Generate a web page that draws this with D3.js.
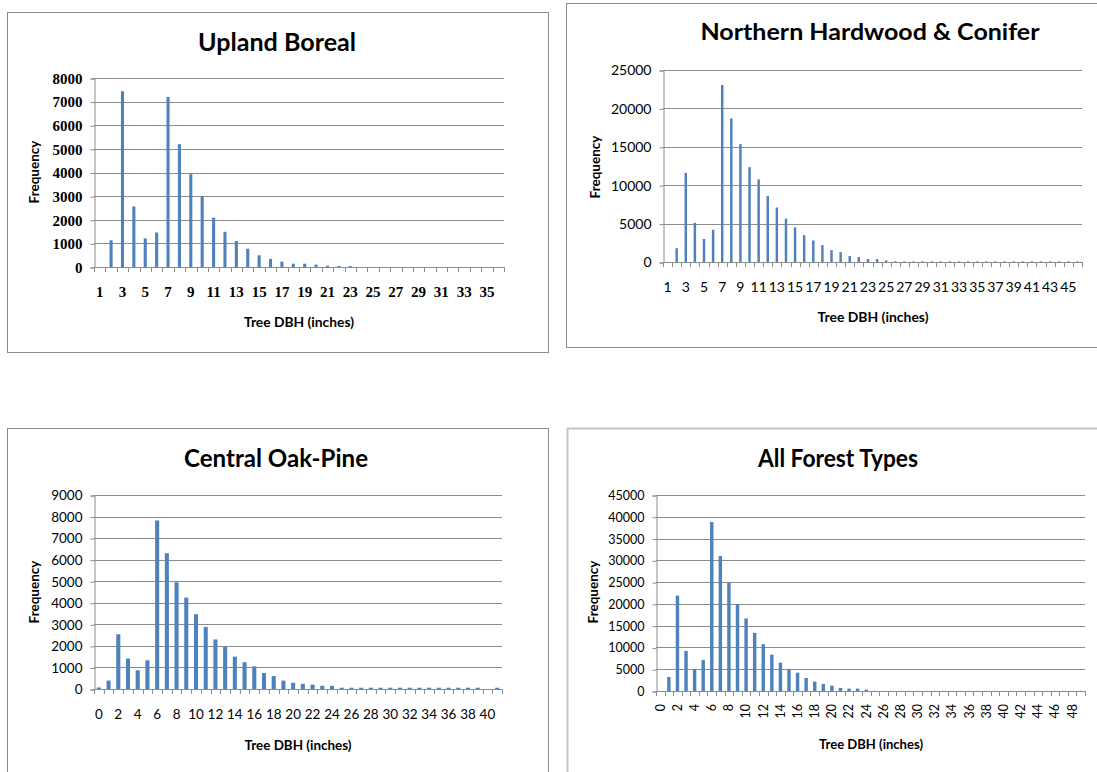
<!DOCTYPE html>
<html>
<head>
<meta charset="utf-8">
<script src="https://cdn.jsdelivr.net/npm/d3@7"></script>
<style>
  body { margin: 0; background: #fff; }
  svg { display: block; font-family: Lato, "Open Sans", sans-serif; }
</style>
</head>
<body>
<svg id="chart" width="1097" height="772"></svg>
<script>
// Upland Boreal
var uplandDBH = [1,2,3,4,5,6,7,8,9,10,11,12,13,14,15,16,17,18,19,20,21,22,23,24,25,26,27,28,29,30,31,32,33,34,35,36];
var uplandFreq = [0,1130,7440,2560,1210,1460,7200,5200,3930,3000,2085,1490,1100,775,495,340,225,140,140,100,55,40,40,0,0,0,0,0,0,0,0,0,0,0,0,0];
var uplandTicks = [0,1000,2000,3000,4000,5000,6000,7000,8000];

// Northern Hardwood & Conifer
var northernDBH = [1,2,3,4,5,6,7,8,9,10,11,12,13,14,15,16,17,18,19,20,21,22,23,24,25,26,27,28,29,30,31,32,33,34,35,36,37,38,39,40,41,42,43,44,45,46];
var northernFreq = [0,1800,11600,5100,3000,4200,23050,18700,15350,12350,10750,8600,7100,5650,4500,3500,2800,2200,1550,1280,780,650,400,380,200,100,80,80,80,80,80,80,80,80,80,80,80,80,80,80,80,80,80,80,80,80];
var northernTicks = [0,5000,10000,15000,20000,25000];

// Central Oak-Pine
var oakDBH = [0,1,2,3,4,5,6,7,8,9,10,11,12,13,14,15,16,17,18,19,20,21,22,23,24,25,26,27,28,29,30,31,32,33,34,35,36,37,38,39,40,41];
var oakFreq = [70,390,2540,1410,870,1330,7820,6300,4950,4240,3470,2880,2300,1950,1500,1240,1050,740,600,390,290,240,200,150,150,60,60,60,60,60,60,60,60,60,60,60,60,60,60,60,0,60];
var oakTicks = [0,1000,2000,3000,4000,5000,6000,7000,8000,9000];

// All Forest Types
var allDBH = [0,1,2,3,4,5,6,7,8,9,10,11,12,13,14,15,16,17,18,19,20,21,22,23,24,25,26,27,28,29,30,31,32,33,34,35,36,37,38,39,40,41,42,43,44,45,46,47,48,49];
var allFreq = [0,3220,21900,9200,5060,7130,38800,31000,24850,19850,16650,13350,10750,8350,6500,5060,4200,3000,2150,1600,1230,700,550,550,300,40,30,30,30,30,30,30,30,30,30,30,30,30,30,30,30,30,30,30,30,30,30,30,30,30];
var allTicks = [0,5000,10000,15000,20000,25000,30000,35000,40000,45000];

var barColor = "#4f81bd";
var gridColor = "#8c8c8c";

var panels = [
  { title: "Upland Boreal", xTitle: "Tree  DBH (inches)", cats: uplandDBH, vals: uplandFreq, ticks: uplandTicks,
    box: [7, 12, 541, 340], boxColor: "#8a8a8a",
    x0: 94, x1: 504, yTop: 78, y0: 267, pad: 0.73,
    titleX: 277, titleY: 51, titleW: 158, titleSize: 24,
    tickFont: "'Liberation Serif', serif", tickSize: 15, tickWeight: "bold", xLabelY: 297, rotate: false,
    freqX: 34, freqY: 172, xTitleX: 299, xTitleY: 327, xTitleW: 110 },
  { title: "Northern Hardwood & Conifer", xTitle: "Tree DBH (inches)", cats: northernDBH, vals: northernFreq, ticks: northernTicks,
    box: [566, 3, 540, 344], boxColor: "#8a8a8a",
    x0: 663, x1: 1082, yTop: 70, y0: 262, pad: 0.73,
    titleX: 870, titleY: 40, titleW: 339, titleSize: 23,
    tickFont: "Lato, sans-serif", tickSize: 14, tickWeight: "normal", xLabelY: 292, rotate: false,
    freqX: 595, freqY: 167, xTitleX: 873, xTitleY: 322, xTitleW: 111 },
  { title: "Central Oak-Pine", xTitle: "Tree DBH (inches)", cats: oakDBH, vals: oakFreq, ticks: oakTicks,
    box: [7, 428, 541, 360], boxColor: "#8a8a8a",
    x0: 94, x1: 502, yTop: 495, y0: 689, pad: 0.58,
    titleX: 276, titleY: 467, titleW: 184, titleSize: 25,
    tickFont: "Lato, sans-serif", tickSize: 13.5, tickWeight: "normal", xLabelY: 719, rotate: false,
    freqX: 34, freqY: 592, xTitleX: 298, xTitleY: 750, xTitleW: 107 },
  { title: "All Forest Types", xTitle: "Tree DBH (inches)", cats: allDBH, vals: allFreq, ticks: allTicks,
    box: [567, 428, 540, 360], boxColor: "#c4c4c4",
    x0: 656, x1: 1085, yTop: 495, y0: 691, pad: 0.6,
    titleX: 838, titleY: 467, titleW: 160, titleSize: 25,
    tickFont: "Lato, sans-serif", tickSize: 12.5, tickWeight: "normal", xLabelY: 704, rotate: true,
    freqX: 593, freqY: 592, xTitleX: 871, xTitleY: 749, xTitleW: 104 }
];

var svg = d3.select("#chart");

panels.forEach(function(p) {
  var g = svg.append("g");

  // chart frame
  g.append("rect")
    .attr("x", p.box[0] + 0.5).attr("y", p.box[1] + 0.5)
    .attr("width", p.box[2]).attr("height", p.box[3])
    .attr("fill", "#fff")
    .attr("stroke", p.boxColor)
    .attr("stroke-width", p.rotate ? 2 : 1);

  // title
  g.append("text")
    .attr("x", p.titleX).attr("y", p.titleY)
    .attr("text-anchor", "middle")
    .attr("font-size", p.titleSize)
    .attr("font-weight", "bold")
    .attr("textLength", p.titleW)
    .attr("lengthAdjust", "spacingAndGlyphs")
    .attr("fill", "#000")
    .text(p.title);

  var x = d3.scaleBand()
    .domain(p.cats)
    .range([p.x0, p.x1])
    .paddingInner(p.pad)
    .paddingOuter(p.pad / 2);

  var y = d3.scaleLinear()
    .domain([0, d3.max(p.ticks)])
    .range([p.y0, p.yTop]);

  // gridlines
  g.append("g")
    .selectAll("line")
    .data(p.ticks)
    .enter().append("line")
      .attr("x1", p.x0).attr("x2", p.x1)
      .attr("y1", function(d) { return Math.round(y(d)) + 0.5; })
      .attr("y2", function(d) { return Math.round(y(d)) + 0.5; })
      .attr("stroke", gridColor)
      .attr("stroke-width", 1);

  // y axis
  var leftAxis = d3.axisLeft(y)
    .tickValues(p.ticks)
    .tickSize(4)
    .tickPadding(8)
    .tickFormat(d3.format("d"));

  var yAxis = g.append("g")
    .attr("transform", "translate(" + (p.x0 + 0.5) + ",0.5)")
    .call(leftAxis);
  yAxis.selectAll("path, line").attr("stroke", gridColor);
  yAxis.selectAll("text")
    .attr("font-family", p.tickFont)
    .attr("font-size", p.tickSize)
    .attr("font-weight", p.tickWeight)
    .attr("fill", "#000");

  // bars
  g.append("g")
    .selectAll("rect")
    .data(p.vals)
    .enter().append("rect")
      .attr("x", function(d, i) { return x(p.cats[i]); })
      .attr("width", x.bandwidth())
      .attr("y", function(d) { return y(d); })
      .attr("height", function(d) { return p.y0 - y(d); })
      .attr("fill", barColor);

  // x axis line and category tick marks
  g.append("line")
    .attr("x1", p.x0).attr("x2", p.x1)
    .attr("y1", p.y0 + 0.5).attr("y2", p.y0 + 0.5)
    .attr("stroke", gridColor);

  var step = (p.x1 - p.x0) / p.cats.length;
  g.append("g")
    .selectAll("line")
    .data(p.cats.concat([null]))
    .enter().append("line")
      .attr("x1", function(d, i) { return Math.round(p.x0 + i * step) + 0.5; })
      .attr("x2", function(d, i) { return Math.round(p.x0 + i * step) + 0.5; })
      .attr("y1", p.y0).attr("y2", p.y0 + 5)
      .attr("stroke", gridColor);

  // x tick labels (every other category)
  var labels = p.cats.filter(function(d, i) { return i % 2 === 0; });
  var xl = g.append("g")
    .selectAll("text")
    .data(labels)
    .enter().append("text")
      .attr("font-family", p.tickFont)
      .attr("font-size", p.tickSize)
      .attr("font-weight", p.tickWeight)
      .attr("fill", "#000")
      .text(function(d) { return d; });

  if (p.rotate) {
    xl.attr("text-anchor", "end")
      .attr("dy", "0.35em")
      .attr("transform", function(d) {
        return "translate(" + (x(d) + x.bandwidth() / 2) + "," + p.xLabelY + ") rotate(-90)";
      });
  } else {
    xl.attr("text-anchor", "middle")
      .attr("x", function(d) { return x(d) + x.bandwidth() / 2; })
      .attr("y", p.xLabelY);
  }

  // axis titles
  g.append("text")
    .attr("transform", "translate(" + p.freqX + "," + p.freqY + ") rotate(-90)")
    .attr("text-anchor", "middle")
    .attr("dy", "0.35em")
    .attr("font-size", 13.5)
    .attr("font-weight", "bold")
    .text("Frequency");

  g.append("text")
    .attr("x", p.xTitleX).attr("y", p.xTitleY)
    .attr("text-anchor", "middle")
    .attr("font-size", 13)
    .attr("font-weight", "bold")
    .attr("textLength", p.xTitleW)
    .attr("lengthAdjust", "spacingAndGlyphs")
    .text(p.xTitle);
});
</script>
</body>
</html>
